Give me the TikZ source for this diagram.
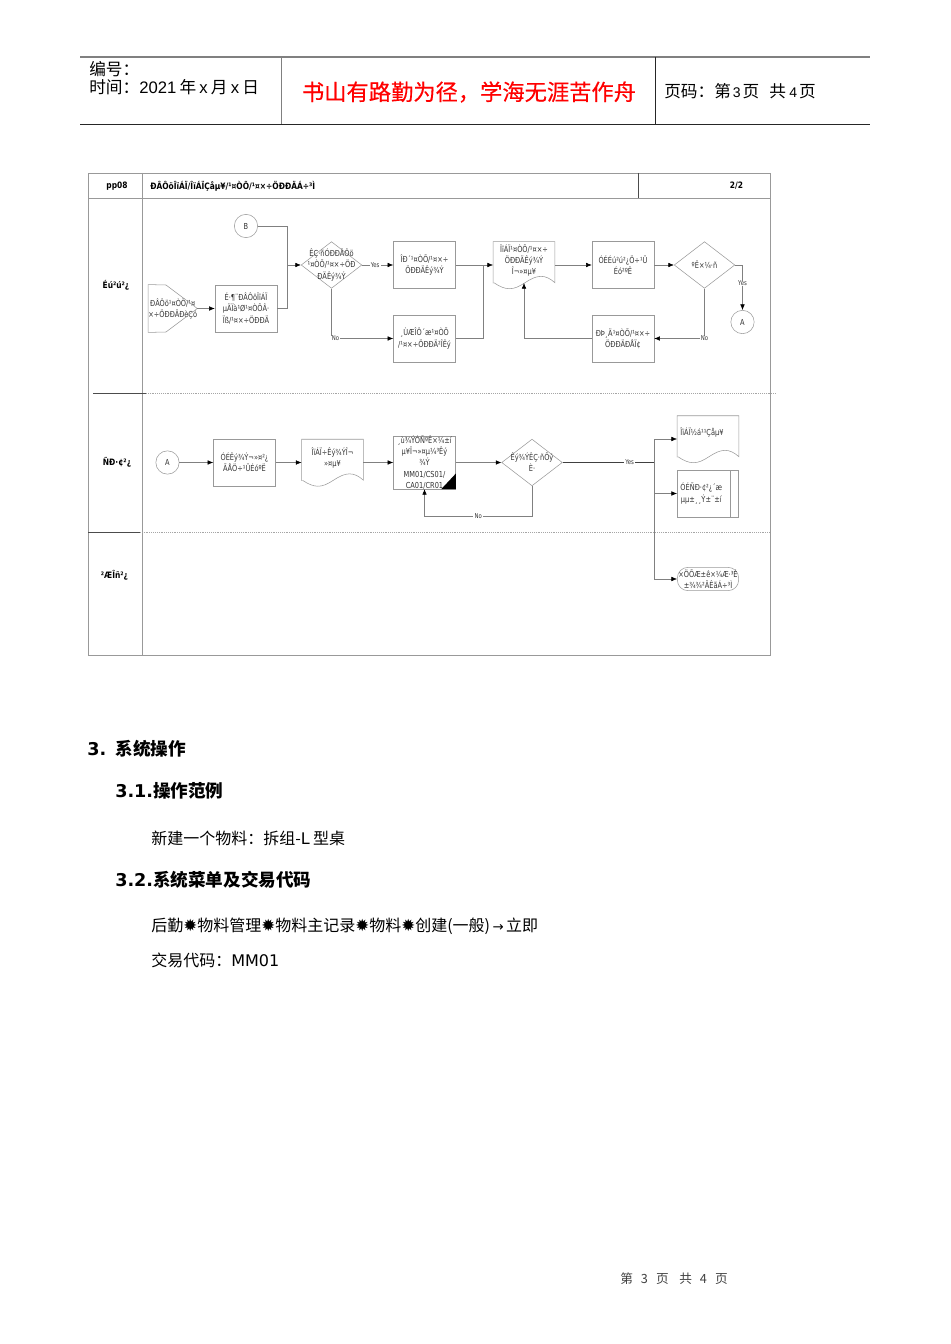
\documentclass[tikz,border=0pt]{standalone}
\usepackage{fontspec}
\setmainfont{Liberation Sans}
\newfontfamily\cjk{Noto Sans CJK SC}
\newfontfamily\cjkred[FakeBold=0.4]{Noto Sans CJK SC}
\newfontfamily\flowfont[FakeStretch=0.8]{DejaVu Sans}
\newfontfamily\lanefont[FakeStretch=0.85]{DejaVu Sans}
\newfontfamily\headfont{DejaVu Sans}
\usetikzlibrary{shapes.geometric,arrows.meta}
\definecolor{linegray}{gray}{0.5}
\definecolor{framegray}{gray}{0.6}
\tikzset{
	flowtext/.style={font=\fontsize{6.2}{8.3}\selectfont\flowfont,text=black!80,align=center,inner sep=0pt},
	boxnode/.style={flowtext,draw=framegray,minimum width=46.5pt,minimum height=35pt},
	docnode/.style={flowtext,minimum width=46pt,minimum height=34.5pt},
	decision/.style={draw=framegray,diamond,aspect=1.3,inner sep=0pt,minimum width=45.5pt,minimum height=35pt},
	linkcircle/.style={flowtext,draw=framegray,circle,minimum size=17.5pt},
	conn/.style={draw=linegray,line width=.4pt},
	arr/.style={conn,->},
	yesno/.style={flowtext,fill=white,font=\fontsize{5}{6}\selectfont\flowfont,inner xsep=1pt},
	lanelabel/.style={font=\fontsize{6.6}{8}\selectfont\bfseries\lanefont,inner sep=0pt},
	headtext/.style={anchor=west,inner sep=0pt,font=\fontsize{12.5}{14}\selectfont},
	pagetext/.style={anchor=west,inner sep=0pt,font=\fontsize{12}{14}\selectfont},
	sectext/.style={anchor=west,inner sep=0pt,font=\fontsize{13.2}{16}\selectfont\bfseries\headfont},
}
% wavy bottom document outline round a named node
\newcommand{\docwave}[1]{\draw[draw=framegray] (#1.south west) ++(0,-5) -- (#1.north west) -- (#1.north east) -- ++(0,41)
	.. controls +(-10,-9) and +(12,-8) .. ++(-30,0) .. controls +(-12,8) and +(12,8) .. ++(-31,0);}
\newcommand{\burst}{\makebox[10.5pt]{\headfont\fontsize{12.5}{14}\selectfont ✹}}
\begin{document}
\begin{tikzpicture}[>={Latex[length=4.2pt,width=3.4pt,black]}, x=.75pt, y=-.75pt]
\useasboundingbox (0,0) rectangle (950,1344);

%page header
\draw [line width=.8pt,black!50](80,57)--(870,57);
\draw [line width=.6pt,black!85](80,124.5)--(870,124.5);
\draw [line width=.7pt,black!50](281,57)--(281,124.5);
\draw [line width=.5pt,black!85](655,57)--(655,124.5);
\node [headtext] (hno) at (89,69) {\cjk 编号：};
\node [headtext] (htime) at (89,87) {{\cjk 时间：}2021\hspace{2.4pt}{\cjk 年}\hspace{2.4pt}x\hspace{2.4pt}{\cjk 月}\hspace{2.4pt}x\hspace{2.4pt}{\cjk 日}};
\node [font=\fontsize{16.7}{18}\selectfont\cjkred,text=red,inner sep=0pt] (hmotto) at (469,92) {书山有路勤为径，学海无涯苦作舟};
\node [headtext] (hpage) at (664,91.5) {{\cjk 页码：第}\hspace{1.5pt}{\fontsize{10.5}{12}\selectfont 3}\hspace{1.5pt}{\cjk 页}\hspace{7.5pt}{\cjk 共}\hspace{2.5pt}{\fontsize{10.5}{12}\selectfont 4}\hspace{1.5pt}{\cjk 页}};

%frame and lanes
\draw [framegray,line width=.6pt](88,173) rectangle (770,655);
\draw [framegray,line width=.6pt](88,198)--(770,198);
\draw [framegray,line width=.6pt](142,173)--(142,655);
\draw [black!70,line width=.6pt](638.5,173)--(638.5,198);
\draw [black!70,line width=.4pt](93,393)--(146,393);
\draw [black!70,line width=.4pt](88,532.5)--(140,532.5);
\draw [black!35,densely dotted,line width=.4pt](146,393)--(776,393);
\draw [black!35,densely dotted,line width=.4pt](140,532.5)--(770,532.5);

\node [lanelabel] (code) at (117,186) {pp08};
\node [lanelabel,anchor=west] (title) at (150,186) {ÐÂÔöÎïÁÏ/ÎïÁÏÇåµ¥/¹¤ÒÕ/¹¤×÷ÖÐÐÄÁ÷³Ì};
\node [lanelabel] (sheet) at (736.5,186) {2/2};
\node [lanelabel] (lanea) at (116,285) {Éú²ú²¿};
\node [lanelabel] (laneb) at (117,462.5) {ÑÐ·¢²¿};
\node [lanelabel] (lanec) at (114.5,575) {²ÆÎñ²¿};

%first lane
\node [linkcircle] (linkB) at (246,226) {B};
\node [minimum width=36.4pt,minimum height=35.5pt,inner sep=0pt,label={[flowtext]center:ÐÂÔö¹¤ÒÕ/¹¤\\×÷ÖÐÐÄÐèÇó}] (start) at (172.75,308.5) {};
\draw [draw=framegray](start.north west)--(166,285)--(start.east)--(166,332)--(start.south west)--cycle;
\node [boxnode] (fix) at (246,308.5) {É·¶¨ÐÂÔöÎïÁÏ\\µÄÏà¹Ø¹¤ÒÕÂ·\\Ïß/¹¤×÷ÖÐÐÄ};
\node [decision,label={[flowtext]center:ÊÇ·ñÓÐÐÂÔö\\¹¤ÒÕ/¹¤×÷ÖÐ\\ÐÄÊý¾Ý}] (isnew) at (331.5,265) {};
\node [boxnode] (write) at (424.5,265) {ÎÐ´¹¤ÒÕ/¹¤×÷\\ÖÐÐÄÊý¾Ý};
\node [boxnode] (update) at (424.5,338.5) {¸ÙÆÎÔ´æ¹¤ÒÕ\\/¹¤×÷ÖÐÐÄ²ÎÊý};
\node [docnode] (form) at (524,265) {ÎïÁÏ¹¤ÒÕ/¹¤×÷\\ÖÐÐÄÊý¾Ý\\Î¬»¤µ¥\\~};
\docwave{form}
\node [boxnode] (check) at (623,265) {ÓÉÉú²ú²¿Ö÷¹Ü\\Éó²ºÊ};
\node [decision,label={[flowtext]center:ºË×¼·ñ}] (ok) at (704.5,265) {};
\node [boxnode] (revise) at (623,338.5) {ÐÞ¸Ä¹¤ÒÕ/¹¤×÷\\ÖÐÐÄÐÅÏ¢};
\node [linkcircle] (linkA) at (742.5,322) {A};

\coordinate (joinB) at (287,265);
\coordinate (joinform) at (483,265);
\draw [conn](linkB.east)-|(joinB);
\draw [conn](fix.east)-|(joinB);
\draw [arr](joinB)--(isnew.west);
\draw [arr](start.east)--(fix.west);
\draw [arr](isnew.east)--node[yesno,pos=.42]{Yes}(write.west);
\draw [arr](isnew.south)|-node[yesno,pos=.5,xshift=3pt]{No}(update.west);
\draw [conn](write.east)--(joinform);
\draw [conn](update.east)-|(joinform);
\draw [arr](joinform)--(form.west);
\draw [arr](form.east)--(check.west);
\draw [arr](check.east)--(ok.west);
\draw [arr](ok.east)-|node[yesno,pos=.7]{Yes}(linkA.north);
\draw [arr](ok.south)|-node[yesno,pos=.5]{No}(revise.east);
\coordinate (formwave) at (524,283);
\draw [arr](revise.west)-|(formwave);

%second lane
\node [linkcircle] (linkA2) at (167.5,462.5) {A};
\node [boxnode] (dataok) at (244.5,462.5) {ÓÉÊý¾Ý¬»¤²¿\\ÃÅÖ÷¹ÜÉóºË};
\node [docnode] (dataform) at (332.5,462.5) {ÎïÁÏ÷Êý¾ÝÎ¬\\»¤µ¥\\~};
\docwave{dataform}
\node [boxnode] (entry) at (424.5,462.5) {¸ù¾ÝÓÑºÊ×¼±í\\µ¥Î¬»¤µ¼³Êý\\¾Ý\\MM01/CS01/\\CA01/CR01};
\fill (entry.south east)--++(-14.5,0)--++(14.5,-15.5)--cycle;
\node [decision,label={[flowtext]center:Êý¾ÝÊÇ·ñÕý\\È·}] (right) at (532,462.5) {};
\node [docnode,label={[flowtext,xshift=-4.5pt,yshift=4.5pt]center:ÎïÁÏ½á¹¹Çåµ¥}] (struct) at (708,439) {};
\docwave{struct}
\node [boxnode,minimum width=46pt,label={[flowtext,xshift=-5pt]center:ÓÉÑÐ·¢²¿´æ\\µµ±¸¸Ý±¨±í}] (store) at (708,493.5) {};
\draw [draw=framegray](730,470)--(730,517);
\node [draw=framegray,rounded corners=8pt,inner sep=0pt,minimum width=46pt,minimum height=17.5pt,label={[flowtext]center:×ÖÕÆ±ê×¼Æ·³É\\±¾¾²ÃÊãÁ÷³Ì}] (finish) at (708,579) {};

\coordinate (joinout) at (654.5,462.5);
\coordinate (fixback) at (424.5,516.5);
\draw [arr](linkA2.east)--(dataok.west);
\draw [arr](dataok.east)--(dataform.west);
\draw [arr](dataform.east)--(entry.west);
\draw [arr](entry.east)--(right.west);
\draw [conn,black!75](right.east)--node[yesno,pos=.73]{Yes}(joinout);
\draw [arr](joinout)|-(struct.west);
\draw [arr](joinout)|-(store.west);
\draw [arr](joinout)|-(finish.west);
\draw [conn](right.south)|-node[yesno,pos=.75]{No}(fixback);
\draw [arr](fixback)--(entry.south -| fixback);

%text below
\node [sectext] (sec) at (87,748.5) {3.\hspace{7pt}{\cjk 系统操作}};
\node [sectext] (secA) at (115,790.5) {3.1.{\cjk 操作范例}};
\node [pagetext] (example) at (151,838) {{\cjk 新建一个物料：拆组-}\headfont L\hspace{2.5pt}{\cjk 型桌}};
\node [sectext] (secB) at (115,879.5) {3.2.{\cjk 系统菜单及交易代码}};
\node [pagetext] (menu) at (151,926.5) {\cjk 后勤\burst 物料管理\burst 物料主记录\burst 物料\burst 创建(一般)\makebox[12pt]{\headfont\fontsize{10}{12}\selectfont →}立即};
\node [pagetext] (tcode) at (151,960) {{\cjk 交易代码：}\headfont MM01};
\node [font=\fontsize{9.5}{12}\selectfont\cjk,text=black!75,inner sep=0pt] (foot) at (674,1278.5) {第\hspace{6pt}3\hspace{6pt}页\hspace{8pt}共\hspace{6pt}4\hspace{6pt}页};
\end{tikzpicture}
\end{document}
